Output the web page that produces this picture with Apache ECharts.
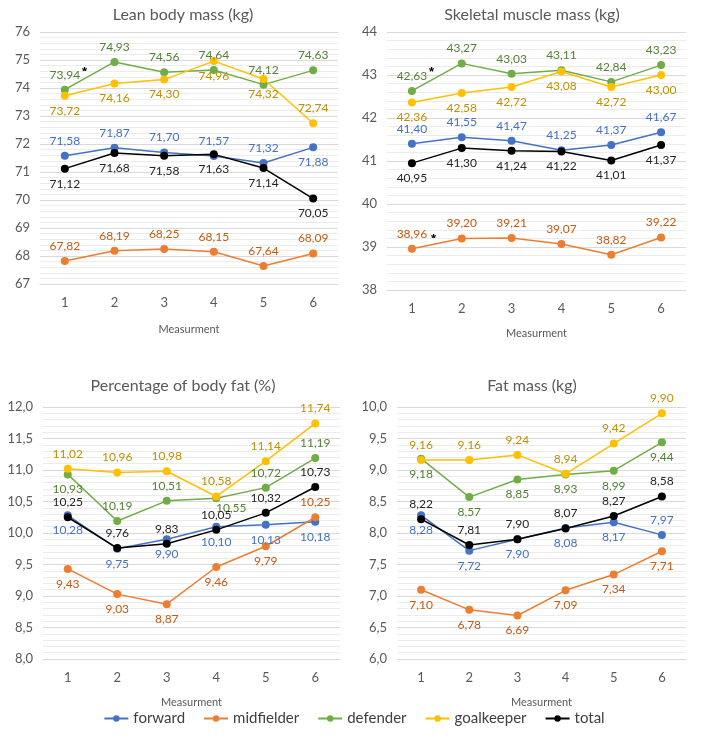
<!DOCTYPE html>
<html>
<head>
<meta charset="utf-8">
<script src="https://cdn.jsdelivr.net/npm/echarts@6/dist/echarts.min.js"></script>
<style>
  html, body { margin: 0; padding: 0; background: #fff; }
  #chart { width: 708px; height: 746px; }
</style>
</head>
<body>
<div id="chart"></div>
<script>
const categories = ['1', '2', '3', '4', '5', '6'];
const seriesNames = ['forward', 'midfielder', 'defender', 'goalkeeper', 'total'];

// Lean body mass (kg)
const leanForward = [71.58, 71.87, 71.70, 71.57, 71.32, 71.88];
const leanMidfielder = [67.82, 68.19, 68.25, 68.15, 67.64, 68.09];
const leanDefender = [73.94, 74.93, 74.56, 74.64, 74.12, 74.63];
const leanGoalkeeper = [73.72, 74.16, 74.30, 74.96, 74.32, 72.74];
const leanTotal = [71.12, 71.68, 71.58, 71.63, 71.14, 70.05];

// Skeletal muscle mass (kg)
const skmForward = [41.40, 41.55, 41.47, 41.25, 41.37, 41.67];
const skmMidfielder = [38.96, 39.20, 39.21, 39.07, 38.82, 39.22];
const skmDefender = [42.63, 43.27, 43.03, 43.11, 42.84, 43.23];
const skmGoalkeeper = [42.36, 42.58, 42.72, 43.08, 42.72, 43.00];
const skmTotal = [40.95, 41.30, 41.24, 41.22, 41.01, 41.37];

// Percentage of body fat (%)
const pbfForward = [10.28, 9.75, 9.90, 10.10, 10.13, 10.18];
const pbfMidfielder = [9.43, 9.03, 8.87, 9.46, 9.79, 10.25];
const pbfDefender = [10.93, 10.19, 10.51, 10.55, 10.72, 11.19];
const pbfGoalkeeper = [11.02, 10.96, 10.98, 10.58, 11.14, 11.74];
const pbfTotal = [10.25, 9.76, 9.83, 10.05, 10.32, 10.73];

// Fat mass (kg)
const fatForward = [8.28, 7.72, 7.90, 8.08, 8.17, 7.97];
const fatMidfielder = [7.10, 6.78, 6.69, 7.09, 7.34, 7.71];
const fatDefender = [9.18, 8.57, 8.85, 8.93, 8.99, 9.44];
const fatGoalkeeper = [9.16, 9.16, 9.24, 8.94, 9.42, 9.90];
const fatTotal = [8.22, 7.81, 7.90, 8.07, 8.27, 8.58];

const lineColors = ['#4472C4', '#ED7D31', '#70AD47', '#FFC000', '#000000'];
const labelColors = ['#4472C4', '#C55A11', '#548235', '#BF9000', '#262626'];
const FONT = 'Lato, "Liberation Sans", sans-serif';

// layout + label placement per panel (T = top, B = bottom, R = bottom-right)
const panels = [
  {
    title: 'Lean body mass (kg)', cx: 178, ty: 2,
    grid: { left: 40, right: 370, top: 32, bottom: 462 },
    min: 67, max: 76, interval: 1, dec: 0,
    data: [leanForward, leanMidfielder, leanDefender, leanGoalkeeper, leanTotal],
    place: ['TTTTTB', 'TTTTTT', 'TTTTTT', 'BBBBBT', 'BBBBBB'],
    nameGap: 40
  },
  {
    title: 'Skeletal muscle mass (kg)', cx: 527, ty: 2,
    grid: { left: 387, right: 22, top: 32, bottom: 456 },
    min: 38, max: 44, interval: 1, dec: 0,
    data: [skmForward, skmMidfielder, skmDefender, skmGoalkeeper, skmTotal],
    place: ['TTTTTT', 'TTTTTT', 'TTTTTT', 'BBBBBB', 'BBBBBB'],
    nameGap: 38
  },
  {
    title: 'Percentage of body fat (%)', cx: 178, ty: 373,
    grid: { left: 43, right: 368, top: 407, bottom: 87 },
    min: 8, max: 12, interval: 0.5, dec: 1,
    data: [pbfForward, pbfMidfielder, pbfDefender, pbfGoalkeeper, pbfTotal],
    place: ['BBBBBB', 'BBBBBT', 'BTTRTT', 'TTTTTT', 'TTTTTT'],
    nameGap: 38
  },
  {
    title: 'Fat mass (kg)', cx: 527, ty: 373,
    grid: { left: 397, right: 22, top: 407, bottom: 87 },
    min: 6, max: 10, interval: 0.5, dec: 1,
    data: [fatForward, fatMidfielder, fatDefender, fatGoalkeeper, fatTotal],
    place: ['BBBBBT', 'BBBBBB', 'BBBBBB', 'TTTTTT', 'TTTTTT'],
    nameGap: 38
  }
];

const fmt = v => v.toFixed(2).replace('.', ',');
const star = (x, y) => ({
  type: 'text', left: x, top: y,
  style: { text: '*', fontSize: 13, fontWeight: 'bold', fill: '#000' }
});

const option = {
  animation: false,
  backgroundColor: '#fff',
  textStyle: { fontFamily: FONT },
  title: panels.map(p => ({
    text: p.title, left: p.cx, top: p.ty, textAlign: 'center',
    textStyle: { fontFamily: FONT, fontSize: 16, fontWeight: 'normal', color: '#595959' }
  })),
  legend: {
    data: seriesNames, bottom: 15, left: 'center', itemGap: 18,
    itemWidth: 24, itemHeight: 8,
    textStyle: { fontFamily: FONT, fontSize: 15, color: '#404040' }
  },
  grid: panels.map(p => p.grid),
  xAxis: panels.map((p, i) => ({
    type: 'category', gridIndex: i, data: categories, boundaryGap: true,
    name: 'Measurment', nameLocation: 'middle', nameGap: p.nameGap,
    nameTextStyle: { fontFamily: FONT, fontSize: 11, color: '#595959' },
    axisLine: { lineStyle: { color: '#d9d9d9' } },
    axisTick: { show: false },
    axisLabel: { fontFamily: FONT, fontSize: 13, color: '#595959', margin: 12 }
  })),
  yAxis: panels.map((p, i) => ({
    type: 'value', gridIndex: i, min: p.min, max: p.max, interval: p.interval,
    axisLine: { show: false }, axisTick: { show: false },
    axisLabel: {
      fontFamily: FONT, fontSize: 13, color: '#595959', margin: 10,
      formatter: v => v.toFixed(p.dec).replace('.', ',')
    },
    splitLine: { lineStyle: { color: '#d9d9d9' } },
    minorTick: { show: false, splitNumber: 5 },
    minorSplitLine: { show: true, lineStyle: { color: '#ececec' } }
  })),
  graphic: [star(82, 66), star(429, 66), star(431, 233)],
  series: []
};

panels.forEach((p, pi) => {
  seriesNames.forEach((name, si) => {
    const pos = p.place[si];
    option.series.push({
      name, type: 'line', xAxisIndex: pi, yAxisIndex: pi,
      symbol: 'circle', symbolSize: 8,
      lineStyle: { color: lineColors[si], width: 1.5 },
      itemStyle: { color: lineColors[si] },
      data: p.data[si].map((v, k) => {
        const c = pos[k];
        const label = { position: c === 'T' ? 'top' : 'bottom' };
        if (c === 'R') label.offset = [15, -5];
        return { value: v, label };
      }),
      label: {
        show: true, distance: 5, formatter: d => fmt(d.value),
        fontFamily: FONT, fontSize: 12, color: labelColors[si]
      }
    });
  });
});

const chart = echarts.init(document.getElementById('chart'), null, { renderer: 'canvas' });
chart.setOption(option);
</script>
</body>
</html>
